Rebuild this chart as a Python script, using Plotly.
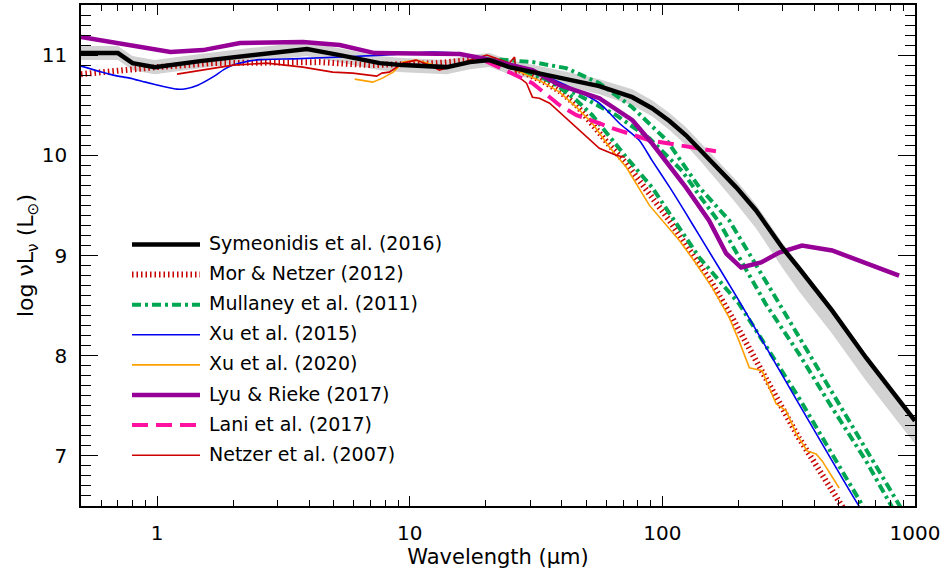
import math
import plotly.graph_objects as go

# ---------------- data (wavelength in micron, log nuL_nu in L_sun) ----------------
sym_wl = [0.5, 0.70, 0.80, 0.98, 1.48, 2.33, 3.92, 5.29, 7.61, 9.38, 14.0, 17.3, 20.7, 24.8, 39.2,
          56.3, 76.0, 91.0, 107, 124, 144, 168, 196, 235, 298, 348, 470, 640, 1000]
sym_logL = [11.02, 11.02, 10.92, 10.88, 10.94, 11.00, 11.06, 11.00, 10.92, 10.90, 10.88, 10.93, 10.95,
            10.88, 10.78, 10.69, 10.58, 10.47, 10.34, 10.20, 10.03, 9.85, 9.68, 9.45, 9.08, 8.87,
            8.45, 7.98, 7.35]
sym_hi = [11.09, 11.09, 10.99, 10.95, 11.01, 11.07, 11.13, 11.07, 10.99, 10.97, 10.95, 11.00, 11.02,
          10.95, 10.85, 10.76, 10.66, 10.55, 10.42, 10.28, 10.11, 9.93, 9.75, 9.51, 9.13, 8.91,
          8.49, 8.02, 7.39]
sym_lo = [10.95, 10.95, 10.85, 10.81, 10.87, 10.93, 10.99, 10.93, 10.85, 10.83, 10.81, 10.86, 10.88,
          10.81, 10.71, 10.61, 10.50, 10.39, 10.25, 10.10, 9.92, 9.72, 9.52, 9.27, 8.88, 8.64,
          8.22, 7.75, 7.12]

mor_wl = [0.5, 0.78, 1.0, 1.66, 4.4, 6.95, 12.8, 17.3, 20.7, 25.0, 33.6, 39.2, 45.7, 61.8, 72.0,
          106.6, 128, 157.6, 189, 256, 347, 560]
mor_logL = [10.81, 10.86, 10.88, 10.92, 10.93, 10.90, 10.92, 10.95, 10.95, 10.89, 10.74, 10.64,
            10.50, 10.10, 9.92, 9.35, 9.05, 8.72, 8.38, 7.78, 7.18, 6.35]

mul1_wl = [20.0, 30.0, 39.2, 45.7, 52.8, 61.8, 72.0, 91.0, 107, 124, 140, 201, 347, 700]
mul1_logL = [10.96, 10.85, 10.68, 10.55, 10.40, 10.18, 9.98, 9.68, 9.42, 9.18, 8.98, 8.52, 7.58, 6.28]
mul2_wl = [18.9, 30.6, 41.6, 56.3, 76.0, 104, 140, 184, 290, 501, 950]
mul2_logL = [10.97, 10.93, 10.87, 10.72, 10.48, 10.15, 9.68, 9.35, 8.52, 7.52, 6.34]
mul3_wl = [20.0, 35.8, 48.3, 65.6, 88.9, 120, 140, 168, 256, 347, 470, 640, 880]
mul3_logL = [10.96, 10.75, 10.58, 10.40, 10.17, 9.84, 9.60, 9.33, 8.52, 8.02, 7.48, 6.95, 6.33]

xu15_wl = [0.5, 0.67, 0.78, 0.9, 1.05, 1.2, 1.3, 1.45, 1.66, 1.85, 2.0, 2.3, 2.55, 3.67, 7.8, 12.3,
           15.7, 20.2, 30.6, 41.6, 56.3, 67.6, 81.0, 91.0, 107, 124, 140, 201, 347, 600, 650]
xu15_logL = [10.89, 10.80, 10.77, 10.73, 10.69, 10.66, 10.665, 10.70, 10.78, 10.86, 10.90, 10.94,
             10.955, 10.965, 11.00, 11.03, 11.015, 10.95, 10.83, 10.70, 10.52, 10.32, 10.15, 9.95,
             9.68, 9.42, 9.20, 8.55, 7.52, 6.50, 6.38]

xu20_wl = [6.06, 7.14, 7.8, 8.6, 9.4, 10.6, 11.7, 13.1, 14.4, 17.3, 18.9, 24.8, 33.6, 39.2, 45.7,
           52.8, 61.8, 72.0, 88.9, 116.8, 136, 157.6, 184, 201, 221, 248, 282, 309, 339, 374, 406,
           429, 501]
xu20_logL = [10.76, 10.73, 10.77, 10.83, 10.93, 10.95, 10.92, 10.88, 10.88, 10.93, 10.95, 10.88,
             10.73, 10.63, 10.48, 10.32, 10.08, 9.88, 9.50, 9.15, 8.92, 8.68, 8.38, 8.15, 7.88,
             7.85, 7.52, 7.45, 7.22, 7.05, 7.02, 6.95, 6.68]

lyu_wl = [0.5, 1.13, 1.52, 2.13, 3.78, 5.29, 7.27, 15.8, 20.2, 30.6, 39.2, 56.3, 76.1, 91.0, 124,
          153, 179, 205, 246, 290, 357, 470, 865]
lyu_logL = [11.18, 11.03, 11.05, 11.12, 11.13, 11.10, 11.02, 11.01, 10.96, 10.85, 10.70, 10.57,
            10.35, 10.12, 9.68, 9.35, 9.02, 8.88, 8.93, 9.03, 9.10, 9.05, 8.80]

lani_wl = [20.0, 30.6, 39.2, 45.7, 56.3, 61.8, 88.9, 120, 163]
lani_logL = [10.94, 10.72, 10.50, 10.40, 10.32, 10.28, 10.15, 10.10, 10.04]

net_wl = [1.2, 2.0, 2.72, 3.78, 4.96, 5.95, 7.4, 7.76, 8.3, 9.4, 10.6, 12.0, 13.1, 15.3, 17.3,
          20.2, 24.8, 26.0, 26.4, 29.0, 30.6, 32.6, 35.8, 45.7, 56.3, 65.6, 70.9]
net_logL = [10.81, 10.90, 10.92, 10.88, 10.83, 10.82, 10.79, 10.82, 10.83, 10.92, 10.95, 10.90,
            10.85, 10.90, 10.95, 11.00, 10.92, 10.98, 10.80, 10.72, 10.58, 10.57, 10.52, 10.28,
            10.07, 10.00, 9.98]

x_range = [0.5, 1000]
y_range = [6.5, 11.5]
x_ticks = [1, 10, 100, 1000]
x_ticklabels = ["1", "10", "100", "1000"]
x_minor = [0.5, 0.6, 0.7, 0.8, 0.9] + [m * d for d in (1, 10, 100) for m in range(2, 10)]
y_ticks = [7, 8, 9, 10, 11]

legend_names = ["Symeonidis et al. (2016)", "Mor & Netzer (2012)", "Mullaney et al. (2011)",
                "Xu et al. (2015)", "Xu et al. (2020)", "Lyu & Rieke (2017)", "Lani et al. (2017)",
                "Netzer et al. (2007)"]

# ---------------- styles ----------------
C_BLACK = "#000000"
C_DRED = "#C80000"
C_GREEN = "#00A651"
C_BLUE = "#0000EE"
C_ORANGE = "#FFA000"
C_PURPLE = "#960096"
C_PINK = "#FF10A0"
C_RED = "#CC0000"
GREEN_DASH = "9px,4px,3px,4px"
DOT_DASH = "1.5px,3px"
PINK_DASH = "16px,8px"
FONT = "DejaVu Sans"

xr_log = [math.log10(x_range[0]), math.log10(x_range[1])]

fig = go.Figure()

# grey uncertainty band
fig.add_trace(go.Scatter(x=sym_wl, y=sym_hi, mode="lines", line=dict(width=0),
                         hoverinfo="skip", showlegend=False))
fig.add_trace(go.Scatter(x=sym_wl, y=sym_lo, mode="lines", line=dict(width=0), fill="tonexty",
                         fillcolor="#D2D2D2", hoverinfo="skip", showlegend=False))

fig.add_trace(go.Scatter(x=mor_wl, y=mor_logL, mode="lines", showlegend=False,
                         line=dict(color=C_DRED, width=6, dash=DOT_DASH)))
for wl, lg in ((mul1_wl, mul1_logL), (mul2_wl, mul2_logL), (mul3_wl, mul3_logL)):
    fig.add_trace(go.Scatter(x=wl, y=lg, mode="lines", showlegend=False,
                             line=dict(color=C_GREEN, width=4, dash=GREEN_DASH)))
fig.add_trace(go.Scatter(x=xu15_wl, y=xu15_logL, mode="lines", showlegend=False,
                         line=dict(color=C_BLUE, width=1.6, shape="spline", smoothing=0.6)))
fig.add_trace(go.Scatter(x=xu20_wl, y=xu20_logL, mode="lines", showlegend=False,
                         line=dict(color=C_ORANGE, width=1.6)))
fig.add_trace(go.Scatter(x=net_wl, y=net_logL, mode="lines", showlegend=False,
                         line=dict(color=C_RED, width=1.6)))
fig.add_trace(go.Scatter(x=lani_wl, y=lani_logL, mode="lines", showlegend=False,
                         line=dict(color=C_PINK, width=4, dash=PINK_DASH)))
fig.add_trace(go.Scatter(x=lyu_wl, y=lyu_logL, mode="lines", showlegend=False,
                         line=dict(color=C_PURPLE, width=4.5)))
fig.add_trace(go.Scatter(x=sym_wl, y=sym_logL, mode="lines", showlegend=False,
                         line=dict(color=C_BLACK, width=4.5)))
# empty trace carrying the mirrored (top / right) tick axes
fig.add_trace(go.Scatter(x=[], y=[], xaxis="x2", yaxis="y2", showlegend=False, hoverinfo="skip"))

# ---------------- manual legend (inside plot, IDL style) ----------------
W, H = 944, 574
ML, MR, MT, MB = 81, 29, 5, 68
PW, PH = W - ML - MR, H - MT - MB


def px2paper(px, py):
    return (px - ML) / PW, (H - MB - py) / PH


leg_styles = [
    dict(color=C_BLACK, width=4.5, dash="solid"),
    dict(color=C_DRED, width=6, dash=DOT_DASH),
    dict(color=C_GREEN, width=4, dash=GREEN_DASH),
    dict(color=C_BLUE, width=1.6, dash="solid"),
    dict(color=C_ORANGE, width=1.6, dash="solid"),
    dict(color=C_PURPLE, width=4.5, dash="solid"),
    dict(color=C_PINK, width=4, dash=PINK_DASH),
    dict(color=C_RED, width=1.6, dash="solid"),
]
shapes = []
annotations = []
for i, (name, st) in enumerate(zip(legend_names, leg_styles)):
    py = 244.5 + 30.1 * i
    x0, y0 = px2paper(132, py)
    x1, _ = px2paper(200, py)
    shapes.append(dict(type="line", xref="paper", yref="paper", x0=x0, x1=x1, y0=y0, y1=y0,
                       line=st, layer="above"))
    tx, ty = px2paper(207, py - 1.5)
    annotations.append(dict(xref="paper", yref="paper", x=tx, y=ty, text=name, showarrow=False,
                            xanchor="left", yanchor="middle",
                            font=dict(family=FONT, size=19, color="#000000")))

fig.update_layout(
    width=W, height=H,
    margin=dict(l=ML, r=MR, t=MT, b=MB, pad=0),
    paper_bgcolor="white", plot_bgcolor="white",
    showlegend=False,
    shapes=shapes, annotations=annotations,
    font=dict(family=FONT, size=19, color="#000000"),
)

common_x = dict(type="log", range=xr_log, showgrid=False, zeroline=False,
                showline=True, linecolor="#000000", linewidth=1.5,
                ticks="inside", ticklen=10, tickwidth=1.3, tickcolor="#000000",
                tickmode="array", tickvals=x_ticks,
                minor=dict(tickmode="array", tickvals=x_minor, ticks="inside", ticklen=6,
                           tickwidth=1.2, tickcolor="#000000", showgrid=False))
common_y = dict(range=y_range, showgrid=False, zeroline=False,
                showline=True, linecolor="#000000", linewidth=1.5,
                ticks="inside", ticklen=17, tickwidth=1.3, tickcolor="#000000",
                tickmode="array", tickvals=y_ticks,
                minor=dict(dtick=0.1, tick0=6.5, ticks="inside", ticklen=10, tickwidth=1.2,
                           tickcolor="#000000", showgrid=False))

fig.update_layout(
    xaxis=dict(**common_x, ticktext=x_ticklabels, ticklabelstandoff=8,
               tickfont=dict(family=FONT, size=20),
               title=dict(text="Wavelength (μm)", font=dict(family=FONT, size=21), standoff=2)),
    yaxis=dict(**common_y, ticklabelstandoff=8, tickfont=dict(family=FONT, size=20),
               title=dict(text="log νL<sub>ν</sub> (L<sub>⊙</sub>)",
                          font=dict(family=FONT, size=22), standoff=2)),
    xaxis2=dict(**common_x, overlaying="x", side="top", anchor="y2", showticklabels=False),
    yaxis2=dict(**common_y, overlaying="y", side="right", anchor="x2", showticklabels=False),
)

fig.write_html("out.html")
